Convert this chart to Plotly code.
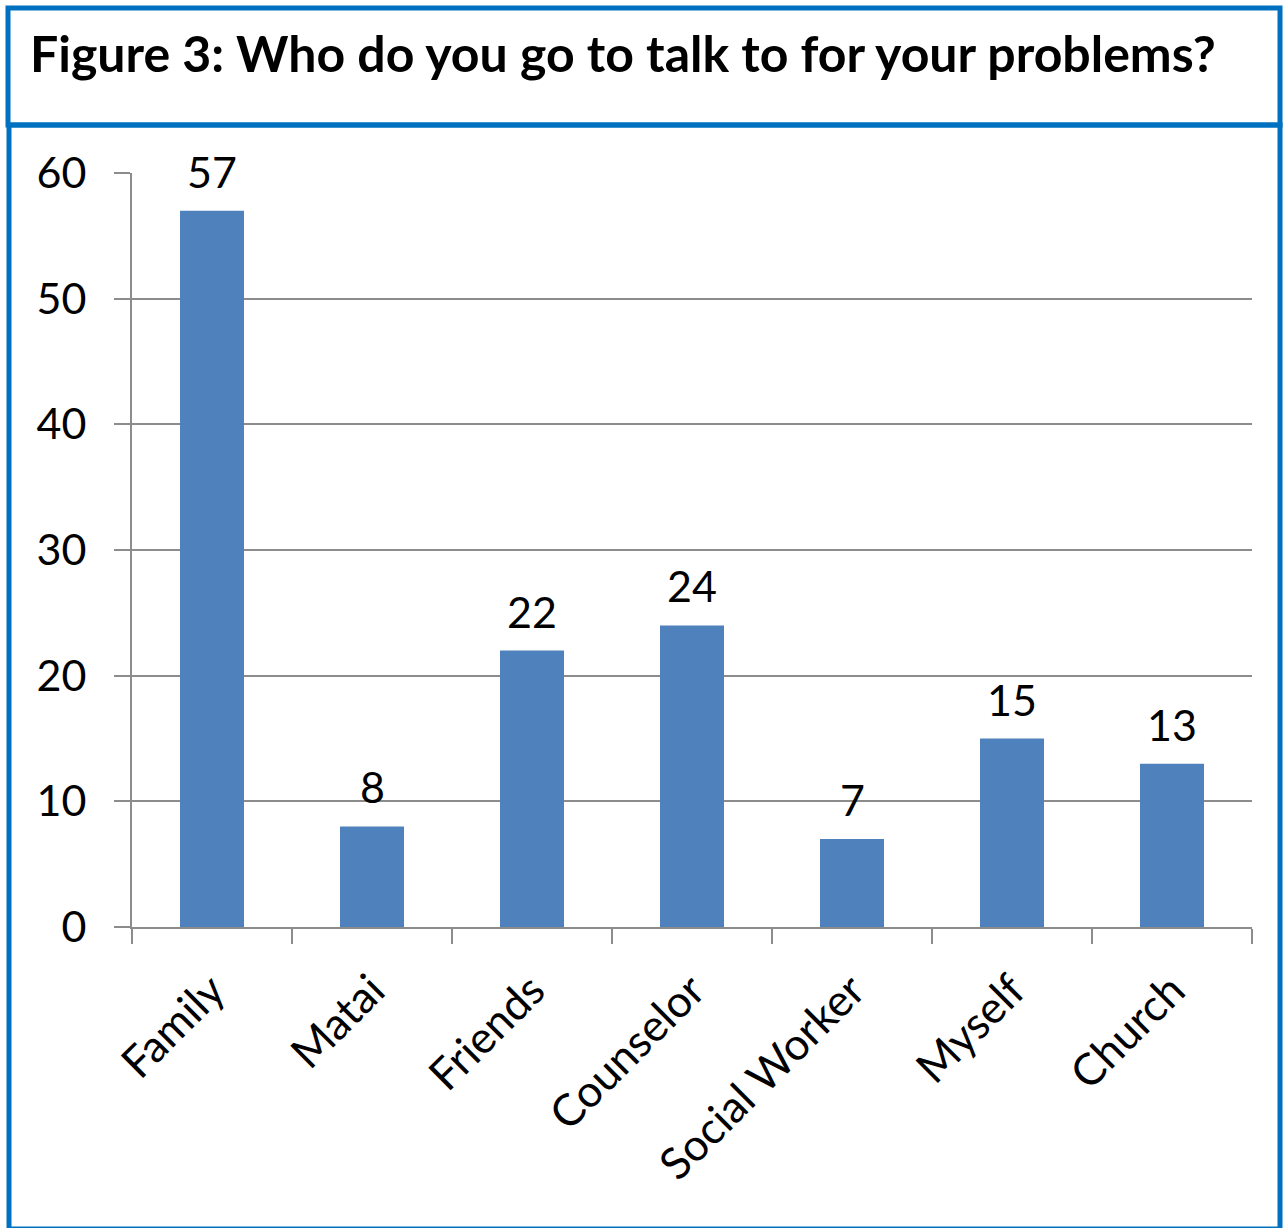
import plotly.graph_objects as go

categories = ["Family", "Matai", "Friends", "Counselor", "Social Worker", "Myself", "Church"]
values = [57, 8, 22, 24, 7, 15, 13]
title_text = "Figure 3: Who do you go to talk to for your problems?"

W, H = 1286, 1228
L, R, T, B = 132, 1252, 173, 927  # plot area in pixels

def px(x):
    return (x - L) / (R - L)

def py(y):
    return (B - y) / (B - T)

BLUE = "#0070C0"
BAR = "#4F81BD"
GRID = "#8C8C8C"
FONT = "Lato"

fig = go.Figure()
fig.add_trace(go.Bar(x=categories, y=values, marker=dict(color=BAR, line=dict(width=0)),
                     width=0.4, hoverinfo="skip"))

annotations = []
for c, v in zip(categories, values):
    annotations.append(dict(x=c, y=v, xref="x", yref="y", text=str(v), showarrow=False,
                            yanchor="bottom", yshift=12,
                            font=dict(family=FONT, size=43, color="black")))
annotations.append(dict(x=px(28), y=py(53), xref="paper", yref="paper", text="<b>" + title_text + "</b>",
                        showarrow=False, xanchor="left", yanchor="middle",
                        font=dict(family=FONT, size=50, color="black")))

shapes = [
    dict(type="rect", xref="paper", yref="paper", x0=px(8), x1=px(1280), y0=py(8), y1=py(125),
         line=dict(color=BLUE, width=5), layer="above"),
    dict(type="rect", xref="paper", yref="paper", x0=px(9), x1=px(1280), y0=py(125), y1=py(1229),
         line=dict(color=BLUE, width=5), layer="above"),
]

fig.update_layout(
    width=W, height=H,
    margin=dict(l=L, r=W - R, t=T, b=H - B, pad=0),
    paper_bgcolor="white", plot_bgcolor="white",
    showlegend=False,
    annotations=annotations, shapes=shapes,
    font=dict(family=FONT, size=42, color="black"),
    xaxis=dict(type="category", tickson="boundaries", ticks="outside", ticklen=15, tickwidth=2,
               tickcolor=GRID, showline=True, linecolor=GRID, linewidth=2, showgrid=False,
               tickangle=-45, tickfont=dict(family=FONT, size=44, color="black"),
               ticklabelstandoff=18, fixedrange=True),
    yaxis=dict(range=[0, 60], dtick=10, ticks="outside", ticklen=16, tickwidth=2, tickcolor=GRID,
               showline=True, linecolor=GRID, linewidth=2, showgrid=True, gridcolor=GRID, gridwidth=1.5,
               zeroline=False, tickfont=dict(family=FONT, size=43, color="black"),
               ticklabelstandoff=19, fixedrange=True),
)

fig.write_html("out.html", config={"displayModeBar": False},
               post_script="document.body.style.margin='0px';")
